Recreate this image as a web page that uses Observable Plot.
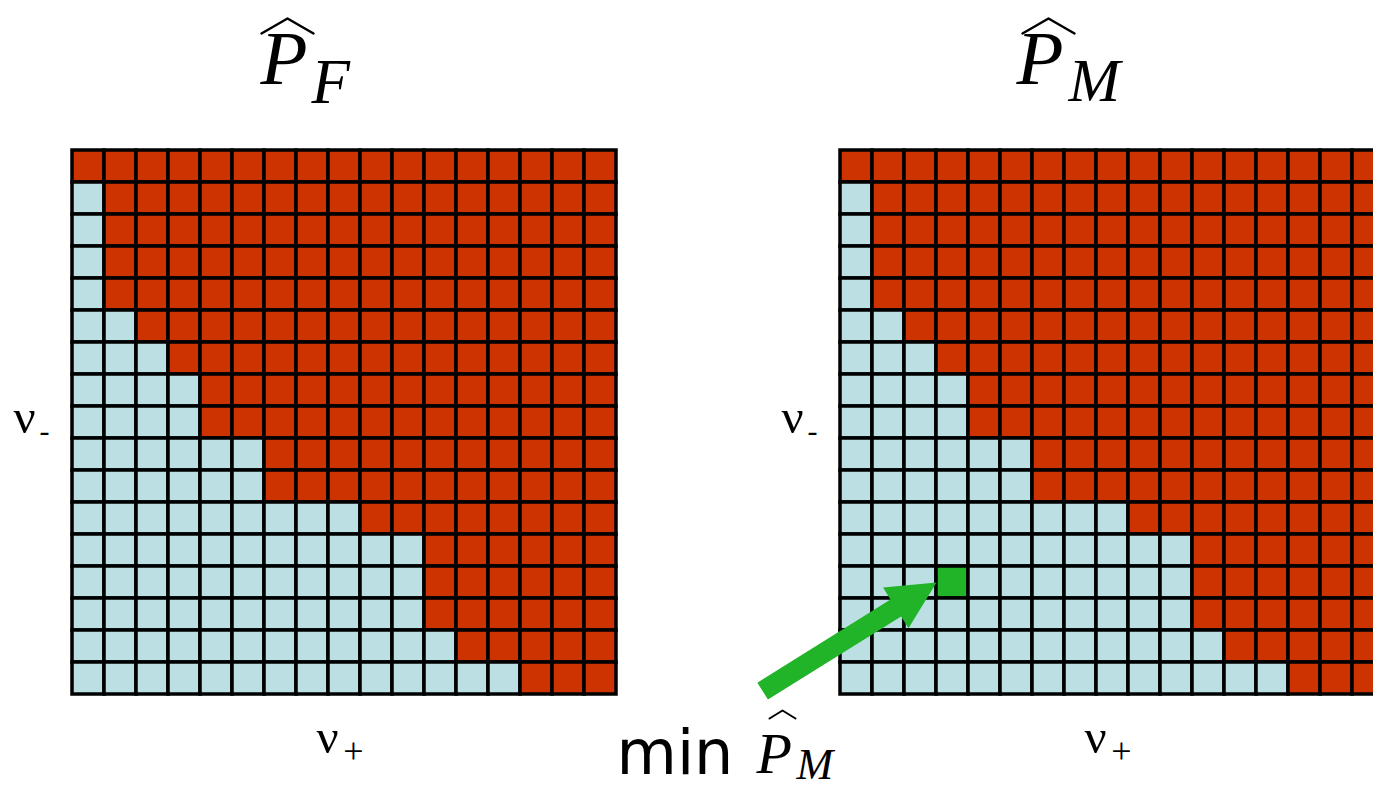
<!DOCTYPE html>
<html>
<head>
<meta charset="utf-8">
<script src="https://cdn.jsdelivr.net/npm/d3@7"></script>
<script src="https://cdn.jsdelivr.net/npm/@observablehq/plot@0.6"></script>
<style>
  html, body { margin: 0; padding: 0; background: #fff; overflow: hidden; }
  #chart svg { max-width: none; display: block; }
</style>
</head>
<body>
<div id="chart"></div>
<script>
// Estimated error probabilities on a 17 × 17 grid of thresholds (ν+ across, ν− down).
const panels = ["F", "M"];            // P̂_F (left) and P̂_M (right)
const gridSize = 17;
// For each ν− row, top to bottom: how many ν+ columns (from the left) fall in the low region
const lowCountF = [0, 1, 1, 1, 1, 2, 3, 4, 4, 6, 6, 9, 11, 11, 11, 12, 14];
const lowCountM = [0, 1, 1, 1, 1, 2, 3, 4, 4, 6, 6, 9, 11, 11, 11, 12, 14];
// Cell where P̂_M reaches its minimum
const minPanel = "M";
const minCol = 3;
const minRow = 13;

const stateNames = ["low", "high", "min"];
const stateColors = ["#bbdfe2", "#cc3300", "#22b428"];

const lowCount = {F: lowCountF, M: lowCountM};
const cells = panels.flatMap((panel) =>
  d3.range(gridSize).flatMap((row) =>
    d3.range(gridSize).map((col) => ({
      panel, row, col,
      state: panel === minPanel && row === minRow && col === minCol ? "min"
           : col < lowCount[panel][row] ? "low" : "high"
    }))
  )
);

// Filled arrow (shaft + triangular head), drawn pointing up from the origin
const arrowShape = {
  draw(context, l) {
    const shaft = 10, head = 24, headLen = 48;
    context.moveTo(-shaft, 0);
    context.lineTo(-shaft, -(l - headLen));
    context.lineTo(-head, -(l - headLen));
    context.lineTo(0, -l);
    context.lineTo(head, -(l - headLen));
    context.lineTo(shaft, -(l - headLen));
    context.lineTo(shaft, 0);
    context.closePath();
  }
};
// Wide hat accent (caret) of half-width r and height l
const hatShape = {
  draw(context, l, r) {
    context.moveTo(-r, 0);
    context.lineTo(0, -l);
    context.lineTo(r, 0);
  }
};

const serif = "Liberation Serif, DejaVu Serif, serif";
const sans = "DejaVu Sans, sans-serif";

// P̂ with subscript, placed relative to a frame anchor of one panel
function hatP(panel, sub, anchor, o) {
  return [
    Plot.text([panel], {fx: (d) => d, text: () => "P", frameAnchor: anchor, textAnchor: "start", lineAnchor: "bottom",
      dx: o.px, dy: o.py, fontFamily: serif, fontStyle: "italic", fontSize: o.pSize, fill: "black"}),
    Plot.text([panel], {fx: (d) => d, text: () => sub, frameAnchor: anchor, textAnchor: "start", lineAnchor: "bottom",
      dx: o.sx, dy: o.sy, fontFamily: serif, fontStyle: "italic", fontSize: o.sSize, fill: "black"}),
    Plot.vector([panel], {fx: (d) => d, frameAnchor: anchor, dx: o.hx, dy: o.hy, length: o.hh, r: o.hw,
      anchor: "start", shape: hatShape, stroke: "black", strokeWidth: o.hs, fill: "none"})
  ];
}

const chart = Plot.plot({
  width: 1384,
  height: 790,
  marginLeft: 72,
  marginRight: 0,
  marginTop: 150,
  marginBottom: 96,
  x: {domain: [0, gridSize], axis: null},
  y: {domain: [0, gridSize], reverse: true, axis: null},
  fx: {domain: panels, paddingInner: 224 / 768, paddingOuter: 0, axis: null},
  color: {domain: stateNames, range: stateColors},
  marks: [
    Plot.rect(cells, {
      fx: "panel",
      x1: "col", x2: (d) => d.col + 1,
      y1: "row", y2: (d) => d.row + 1,
      fill: "state", stroke: "black", strokeWidth: 3.5
    }),
    // panel titles
    ...hatP("F", "F", "top", {px: -84, py: -67, pSize: 77, sx: -33, sy: -48, sSize: 63, hx: -57, hy: -117, hh: 15, hw: 26, hs: 2.5}),
    ...hatP("M", "M", "top", {px: -96, py: -67, pSize: 77, sx: -44, sy: -50, sSize: 62, hx: -64, hy: -117, hh: 15, hw: 26, hs: 2.5}),
    // axis labels
    Plot.text(panels, {fx: (d) => d, text: () => "ν", frameAnchor: "left", textAnchor: "middle", lineAnchor: "bottom",
      dx: -48, dy: 10, fontFamily: serif, fontSize: 49, fill: "black"}),
    Plot.text(panels, {fx: (d) => d, text: () => "-", frameAnchor: "left", textAnchor: "middle", lineAnchor: "bottom",
      dx: -28, dy: 18, fontFamily: serif, fontSize: 30, fill: "black"}),
    Plot.text(panels, {fx: (d) => d, text: () => "ν", frameAnchor: "bottom", textAnchor: "middle", lineAnchor: "bottom",
      dx: -17, dy: 58, fontFamily: serif, fontSize: 49, fill: "black"}),
    Plot.text(panels, {fx: (d) => d, text: () => "+", frameAnchor: "bottom", textAnchor: "middle", lineAnchor: "bottom",
      dx: 9, dy: 68, fontFamily: serif, fontSize: 36, fill: "black"}),
    // arrow pointing at the minimum of P̂_M
    Plot.vector([{panel: minPanel, col: minCol, row: minRow}], {
      fx: "panel", x: "col", y: (d) => d.row + 0.5,
      length: 205, rotate: 58, anchor: "end", shape: arrowShape,
      fill: "#22b428", stroke: "none"
    }),
    Plot.text([minPanel], {fx: (d) => d, text: () => "min", frameAnchor: "bottom-left", textAnchor: "start", lineAnchor: "bottom",
      dx: -224, dy: 79, fontFamily: sans, fontSize: 62, fill: "black"}),
    ...hatP(minPanel, "M", "bottom-left", {px: -84, py: 78, pSize: 58, sx: -44, sy: 84, sSize: 44, hx: -58, hy: 24, hh: 8, hw: 13, hs: 2})
  ]
});

document.getElementById("chart").append(chart);
</script>
</body>
</html>
